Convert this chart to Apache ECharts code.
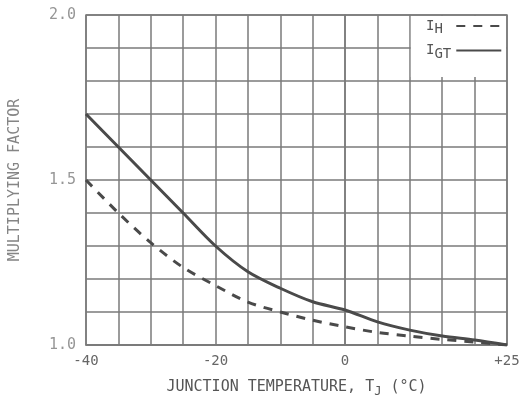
<!DOCTYPE html>
<html>
<head>
<meta charset="utf-8">
<script src="https://cdn.jsdelivr.net/npm/echarts@6/dist/echarts.min.js"></script>
<style>
  html, body { margin: 0; padding: 0; background: #fff; }
  #chart { width: 522px; height: 399px; }
</style>
</head>
<body>
<div id="chart"></div>
<script>
// Junction temperature (°C) at each sampled point
const temperatures = [-40, -35, -30, -25, -20, -15, -10, -5, 0, 5, 10, 15, 20, 25];
// Holding current multiplying factor
const holdingFactor = [1.50, 1.40, 1.31, 1.235, 1.18, 1.13, 1.10, 1.075, 1.055, 1.038, 1.027, 1.017, 1.009, 1.0];
// Gate trigger current multiplying factor
const gateTriggerFactor = [1.70, 1.60, 1.50, 1.40, 1.30, 1.222, 1.172, 1.131, 1.106, 1.07, 1.045, 1.027, 1.015, 1.0];

// Labelled ticks
const xLabelValues = [-40, -20, 0, 25];
const xLabelTexts = ['-40', '-20', '0', '+25'];
const yLabelValues = [1.0, 1.5, 2.0];
const yLabelTexts = ['1.0', '1.5', '2.0'];

const FONT = 'DejaVu Sans Mono';
const GRID_COLOR = '#7a7a7a';
const CURVE_COLOR = '#4a4a4a';

const chart = echarts.init(document.getElementById('chart'), null, { renderer: 'canvas' });

function pairs(ys) {
  return temperatures.map((t, i) => [t, ys[i]]);
}

function labelFor(values, texts) {
  return function (v) {
    for (let i = 0; i < values.length; i++) {
      if (Math.abs(values[i] - v) < 1e-6) return texts[i];
    }
    return '';
  };
}

const option = {
  backgroundColor: '#ffffff',
  animation: false,
  grid: {
    left: 86, right: 15, top: 15, bottom: 54,
    outerBoundsMode: 'none',
    show: true, borderColor: GRID_COLOR, borderWidth: 1.5
  },
  xAxis: {
    type: 'value', min: -40, max: 25, interval: 5,
    name: 'JUNCTION TEMPERATURE, T{s|J} (°C)',
    nameLocation: 'middle', nameGap: 32,
    nameTextStyle: {
      fontFamily: FONT, fontSize: 15, color: '#555555',
      rich: { s: { fontFamily: FONT, fontSize: 12, color: '#555555', padding: [9, 0, 0, 0] } }
    },
    axisLine: { show: true, lineStyle: { color: GRID_COLOR, width: 1.5 } },
    axisTick: { show: false },
    splitLine: { show: true, lineStyle: { color: GRID_COLOR, width: 1.5 } },
    axisLabel: {
      margin: 9, fontFamily: FONT, fontSize: 14, color: '#666666',
      formatter: labelFor(xLabelValues, xLabelTexts)
    }
  },
  yAxis: {
    type: 'value', min: 1.0, max: 2.0, interval: 0.1,
    name: 'MULTIPLYING FACTOR',
    nameLocation: 'middle', nameGap: 63, nameRotate: 90,
    nameTextStyle: { fontFamily: FONT, fontSize: 15, color: '#858585' },
    axisLine: { show: true, lineStyle: { color: GRID_COLOR, width: 1.5 } },
    axisTick: { show: false },
    splitLine: { show: true, lineStyle: { color: GRID_COLOR, width: 1.5 } },
    axisLabel: {
      margin: 10, fontFamily: FONT, fontSize: 15, color: '#969696',
      padding: [6, 0, 0, 0],
      formatter: labelFor(yLabelValues, yLabelTexts)
    }
  },
  legend: {
    z: 10,
    orient: 'vertical', align: 'right',
    left: 426, top: 19, padding: 0, itemGap: 7,
    itemWidth: 45, itemHeight: 14,
    selectedMode: false,
    itemStyle: { opacity: 0 },
    textStyle: {
      fontFamily: FONT, fontSize: 14, color: '#555555', width: 28,
      rich: {
        m: { fontFamily: FONT, fontSize: 14, color: '#555555' },
        s: { fontFamily: FONT, fontSize: 14, color: '#555555', padding: [7, 0, 0, 0] }
      }
    },
    formatter: function (name) {
      return name === 'IH' ? '{m|I}{s|H}{s| }' : '{m|I}{s|GT}';
    },
    data: ['IH', 'IGT']
  },
  series: [
    {
      name: 'IH', type: 'line', data: pairs(holdingFactor),
      smooth: 0.3, symbol: 'none', z: 3,
      lineStyle: { color: CURVE_COLOR, width: 3, type: [9, 8] },
      itemStyle: { color: CURVE_COLOR }
    },
    {
      name: 'IGT', type: 'line', data: pairs(gateTriggerFactor),
      smooth: 0.3, symbol: 'none', z: 3,
      lineStyle: { color: CURVE_COLOR, width: 3 },
      itemStyle: { color: CURVE_COLOR }
    }
  ]
};

chart.setOption(option);

// White key panel covering the top-right cells behind the legend
const p0 = chart.convertToPixel({ gridIndex: 0 }, [10, 2.0]);
const p1 = chart.convertToPixel({ gridIndex: 0 }, [25, 1.8]);
chart.setOption({
  graphic: {
    elements: [{
      type: 'rect', z: 5,
      shape: { x: p0[0] + 1, y: p0[1] + 1, width: p1[0] - p0[0] - 2, height: p1[1] - p0[1] - 5 },
      style: { fill: '#ffffff' }
    }]
  }
});
</script>
</body>
</html>
